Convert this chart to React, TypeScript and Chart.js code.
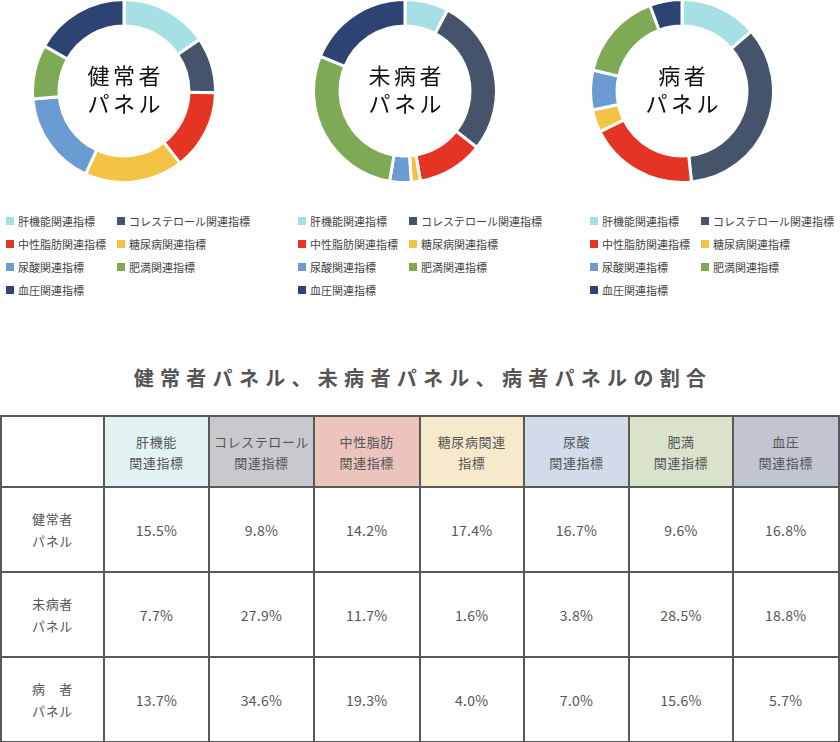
import React, { useEffect, useRef } from "react";
import { Chart, registerables } from "chart.js";

Chart.register(...registerables);

const categories = [
  "肝機能関連指標",
  "コレステロール関連指標",
  "中性脂肪関連指標",
  "糖尿病関連指標",
  "尿酸関連指標",
  "肥満関連指標",
  "血圧関連指標",
];
const headerLines = [
  ["肝機能", "関連指標"],
  ["コレステロール", "関連指標"],
  ["中性脂肪", "関連指標"],
  ["糖尿病関連", "指標"],
  ["尿酸", "関連指標"],
  ["肥満", "関連指標"],
  ["血圧", "関連指標"],
];
const colors = ["#a6e0e5", "#46546b", "#e63424", "#f5c343", "#6a9bd1", "#7eaa56", "#2c4373"];
const headerBgs = ["#e3f2f3", "#c8c9cd", "#ebc5bd", "#f7eacc", "#d3dbeb", "#d9e3cc", "#c1c5d0"];

const healthy = [15.5, 9.8, 14.2, 17.4, 16.7, 9.6, 16.8];
const presymptomatic = [7.7, 27.9, 11.7, 1.6, 3.8, 28.5, 18.8];
const patient = [13.7, 34.6, 19.3, 4.0, 7.0, 15.6, 5.7];

const chartCenterLabels = [
  ["健常者", "パネル"],
  ["未病者", "パネル"],
  ["病者", "パネル"],
];
const rowLabels = [
  ["健常者", "パネル"],
  ["未病者", "パネル"],
  ["病　者", "パネル"],
];
const seriesList = [healthy, presymptomatic, patient];
const titleText = "健常者パネル、未病者パネル、病者パネルの割合";
const colContentWidths = [103, 105, 105, 105.5, 104.5, 105, 104, 105.5];

const FONT = '"Noto Sans CJK JP", "Noto Sans", sans-serif';

function Donut({ values, cx, cy, label }: { values: number[]; cx: number; cy: number; label: string[] }) {
  const ref = useRef<HTMLCanvasElement | null>(null);
  const size = 186;
  useEffect(() => {
    if (!ref.current) return;
    const chart = new Chart(ref.current, {
      type: "doughnut",
      data: {
        labels: categories,
        datasets: [
          {
            data: values,
            backgroundColor: colors,
            borderColor: "#ffffff",
            borderWidth: 3,
            hoverOffset: 0,
          },
        ],
      },
      options: {
        responsive: false,
        animation: false,
        cutout: "71%",
        layout: { padding: 0 },
        plugins: { legend: { display: false }, tooltip: { enabled: false } },
      },
    });
    return () => chart.destroy();
  }, [values]);
  const lineStyle: React.CSSProperties = {
    position: "absolute",
    left: cx - 80,
    width: 160,
    textAlign: "center",
    fontFamily: FONT,
    fontSize: 22,
    lineHeight: "24px",
    height: 24,
    letterSpacing: 3.5,
    paddingLeft: 3.5,
    boxSizing: "border-box",
    color: "#111",
    whiteSpace: "nowrap",
  };
  return (
    <>
      <canvas
        ref={ref}
        width={size}
        height={size}
        style={{ position: "absolute", left: cx - size / 2, top: cy - size / 2, width: size, height: size }}
      />
      <div style={{ ...lineStyle, top: cy - 29 }}>{label[0]}</div>
      <div style={{ ...lineStyle, top: cy - 1 }}>{label[1]}</div>
    </>
  );
}

function Legend({ left, top }: { left: number; top: number }) {
  return (
    <div style={{ position: "absolute", left, top, fontFamily: FONT, fontSize: 11, color: "#444" }}>
      {categories.map((c, i) => {
        const col = i % 2;
        const row = Math.floor(i / 2);
        return (
          <div
            key={c}
            style={{
              position: "absolute",
              left: col * 111,
              top: row * 23,
              whiteSpace: "nowrap",
              display: "flex",
              alignItems: "center",
              height: 14,
            }}
          >
            <span style={{ display: "inline-block", width: 8, height: 8, background: colors[i], marginRight: 4 }} />
            <span>{c}</span>
          </div>
        );
      })}
    </div>
  );
}

export default function App() {
  const cell: React.CSSProperties = {
    border: "2px solid #595959",
    textAlign: "center",
    verticalAlign: "middle",
    color: "#555",
    fontFamily: FONT,
    padding: 0,
    overflow: "hidden",
    whiteSpace: "nowrap",
  };
  return (
    <div style={{ position: "absolute", left: 0, top: 0, width: 840, height: 742, background: "#fff", overflow: "hidden" }}>
      <Donut values={healthy} cx={124} cy={91} label={chartCenterLabels[0]} />
      <Donut values={presymptomatic} cx={405} cy={91} label={chartCenterLabels[1]} />
      <Donut values={patient} cx={682} cy={91} label={chartCenterLabels[2]} />
      <Legend left={6} top={214} />
      <Legend left={298} top={214} />
      <Legend left={590} top={214} />
      <div
        style={{
          position: "absolute",
          left: 0,
          top: 364,
          width: 840,
          textAlign: "center",
          fontFamily: FONT,
          fontWeight: 700,
          fontSize: 20,
          letterSpacing: 6.3,
          paddingLeft: 6,
          boxSizing: "border-box",
          color: "#555",
          lineHeight: "28px",
        }}
      >
        {titleText}
      </div>
      <table
        style={{
          position: "absolute",
          left: 0,
          top: 415,
          borderCollapse: "collapse",
          tableLayout: "fixed",
        }}
      >
        <colgroup>
          {colContentWidths.map((w, k) => (
            <col key={k} style={{ width: w }} />
          ))}
        </colgroup>
        <tbody>
          <tr style={{ height: 71 }}>
            <td style={{ ...cell }} />
            {headerLines.map((h, i) => (
              <td key={i} style={{ ...cell, background: headerBgs[i], fontSize: 13, lineHeight: "21px", letterSpacing: 0.6 }}>
                {h[0]}
                <br />
                {h[1]}
              </td>
            ))}
          </tr>
          {seriesList.map((s, r) => (
            <tr key={r} style={{ height: 85 }}>
              <td style={{ ...cell, fontSize: 13, lineHeight: "22px", letterSpacing: 0.6 }}>
                {rowLabels[r][0]}
                <br />
                {rowLabels[r][1]}
              </td>
              {s.map((v, i) => (
                <td key={i} style={{ ...cell, fontSize: 14, letterSpacing: 0.3 }}>
                  {v.toFixed(1)}%
                </td>
              ))}
            </tr>
          ))}
        </tbody>
      </table>
    </div>
  );
}
